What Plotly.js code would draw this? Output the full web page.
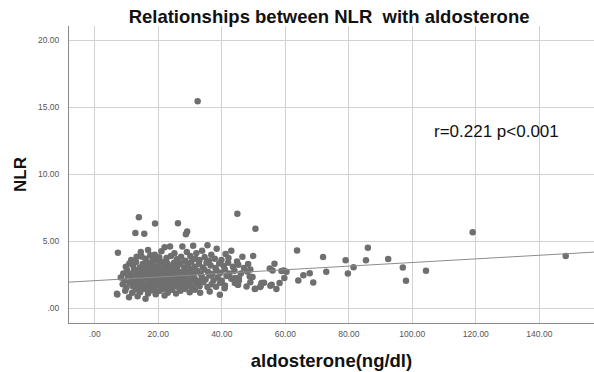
<!DOCTYPE html>
<html>
<head>
<meta charset="utf-8">
<script src="https://cdn.plot.ly/plotly-3.0.1.min.js"></script>
<style>html,body{margin:0;padding:0;background:#fff;}#chart{width:594px;height:372px;}</style>
</head>
<body>
<div id="chart"></div>
<script>
// aldosterone (ng/dl) values
const aldoX = [
  // outliers / sparse
  32.4, 13.9, 12.8, 15.6, 19.0, 26.2, 29.1, 28.7, 44.9, 50.6, 7.3, 63.7, 7.1, 49.9, 71.9, 79.0, 86.0, 85.4, 92.4, 119.0, 148.3, 97.0, 98.0, 104.3, 81.5, 79.7, 72.9, 67.7, 68.8, 65.7, 64.1, 59.7, 60.4, 59.5, 58.2, 57.2, 56.6, 55.1, 56.0, 55.3, 55.7, 53.3, 52.1, 52.3, 50.5, 49.7, 49.0, 49.0, 58.8, 45.4, 48.8, 52.5, 45.1,
  // upper fringe
  14.5, 16.8, 18.9, 21.0, 22.0, 23.7, 25.1, 27.6, 29.0, 31.0, 32.0, 33.8, 35.5, 36.7, 38.4, 41.2, 43.0,
  // 3.5 - 4.0
  11.5, 13.2, 14.7, 16.0, 17.5, 19.4, 20.3, 22.6, 24.0, 25.9, 27.2, 28.5, 30.1, 31.7, 33.0, 34.6, 36.0, 37.8, 39.9, 42.1, 44.8, 46.5,
  // 3.0 - 3.5
  9.8, 10.9, 12.1, 13.0, 14.2, 15.1, 16.3, 17.2, 18.0, 19.1, 20.0, 21.1, 21.9, 23.0, 24.2, 25.0, 26.1, 27.0, 28.2, 29.3, 30.4, 31.5, 32.8, 34.0, 35.2, 36.5, 38.0, 39.2, 40.6, 42.0, 43.5, 45.2, 47.0, 48.3,
  // 2.5 - 3.0
  9.0, 10.2, 11.3, 12.4, 13.5, 14.4, 15.3, 16.2, 17.1, 17.9, 18.8, 19.6, 20.5, 21.4, 22.3, 23.2, 24.1, 25.0, 25.8, 26.7, 27.6, 28.5, 29.4, 30.3, 31.2, 32.2, 33.3, 34.5, 35.7, 37.0, 38.3, 39.6, 41.0, 42.4, 44.0, 46.0, 48.0,
  // 2.0 - 2.5
  8.2, 9.4, 10.5, 11.6, 12.5, 13.3, 14.1, 14.9, 15.7, 16.5, 17.3, 18.1, 18.9, 19.7, 20.4, 21.2, 22.0, 22.8, 23.6, 24.4, 25.2, 26.0, 26.8, 27.7, 28.6, 29.5, 30.5, 31.5, 32.6, 33.7, 34.9, 36.1, 37.4, 38.7, 40.0, 41.5, 43.0, 44.1, 45.4,
  // 1.5 - 2.0
  8.8, 10.0, 11.0, 12.0, 12.9, 13.8, 14.6, 15.4, 16.2, 17.0, 17.8, 18.6, 19.4, 20.2, 21.0, 21.8, 22.6, 23.4, 24.2, 25.1, 26.0, 26.9, 27.8, 28.8, 29.8, 30.8, 31.9, 33.0, 34.2, 35.5, 36.8, 38.2, 39.5, 41.0, 44.1, 45.1, 47.8,
  // 1.0 - 1.5
  9.6, 11.8, 13.0, 14.3, 15.6, 16.8, 18.0, 19.2, 20.5, 21.7, 23.0, 24.3, 25.6, 27.0, 28.4, 29.9, 31.5, 33.2, 36.2, 39.4, 40.9, 50.4,
  // low
  7.0, 10.8, 16.0, 13.5, 22.0,
  // core second layer
  16.6, 17.6, 18.4, 19.0, 19.9, 20.8, 21.5, 22.2, 23.0, 23.8, 24.6, 25.4, 26.3, 27.1, 28.0, 29.0, 30.0, 31.0, 15.8, 18.2, 20.6, 22.5, 24.8, 26.5, 16.9, 19.6, 23.3, 27.4
];
// NLR values
const nlrY = [
  15.45, 6.80, 5.61, 5.56, 6.32, 6.35, 5.73, 5.53, 7.05, 5.93, 4.14, 4.31, 1.03, 3.91, 3.82, 3.59, 4.51, 3.59, 3.67, 5.68, 3.91, 3.04, 2.05, 2.80, 3.07, 2.60, 2.72, 2.62, 1.93, 2.47, 2.07, 2.25, 2.72, 2.82, 1.88, 1.43, 3.32, 2.97, 2.82, 1.68, 1.75, 1.90, 1.58, 1.68, 1.45, 2.33, 1.95, 2.89, 2.79, 2.25, 2.38, 1.88, 1.75,
  4.20, 4.35, 4.00, 4.25, 4.56, 4.61, 4.10, 4.61, 4.20, 4.66, 4.11, 4.30, 4.71, 3.99, 4.45, 4.05, 4.29,
  3.60, 3.85, 3.87, 3.70, 3.95, 3.60, 3.80, 3.75, 3.90, 3.65, 3.85, 3.55, 3.90, 3.70, 3.60, 3.82, 3.55, 3.70, 3.61, 3.75, 3.50, 3.85,
  3.10, 3.35, 3.20, 3.45, 3.05, 3.30, 3.45, 3.15, 3.38, 3.02, 3.25, 3.45, 3.10, 3.30, 3.00, 3.40, 3.15, 3.35, 3.05, 3.28, 3.45, 3.10, 3.32, 3.05, 3.40, 3.20, 3.00, 3.35, 3.15, 3.40, 3.10, 3.25, 3.00, 3.30,
  2.60, 2.85, 2.55, 2.90, 2.70, 2.95, 2.60, 2.80, 2.55, 2.95, 2.70, 2.50, 2.85, 2.65, 2.95, 2.55, 2.80, 2.60, 2.90, 2.70, 2.52, 2.85, 2.65, 2.95, 2.58, 2.80, 2.60, 2.90, 2.70, 2.55, 2.85, 2.65, 2.90, 2.60, 2.80, 2.60, 2.75,
  2.30, 2.05, 2.40, 2.15, 2.45, 2.10, 2.35, 2.00, 2.25, 2.45, 2.10, 2.30, 2.02, 2.40, 2.15, 2.35, 2.05, 2.45, 2.20, 2.38, 2.08, 2.30, 2.48, 2.12, 2.35, 2.05, 2.42, 2.20, 2.02, 2.35, 2.15, 2.45, 2.10, 2.30, 2.05, 2.40, 2.20, 2.25, 2.05,
  1.80, 1.55, 1.90, 1.65, 1.95, 1.60, 1.85, 1.52, 1.75, 1.98, 1.60, 1.85, 1.55, 1.78, 1.95, 1.62, 1.85, 1.50, 1.72, 1.95, 1.60, 1.82, 1.55, 1.90, 1.68, 1.52, 1.85, 1.65, 1.95, 1.58, 1.80, 1.60, 1.90, 1.70, 1.88, 1.75, 1.63,
  1.30, 1.15, 1.40, 1.20, 1.45, 1.10, 1.35, 1.05, 1.30, 1.45, 1.15, 1.38, 1.10, 1.30, 1.45, 1.20, 1.38, 1.15, 1.25, 1.00, 1.50, 1.43,
  1.08, 0.83, 0.71, 0.90, 0.95,
  2.60, 2.20, 2.75, 1.75, 3.00, 2.50, 1.85, 2.70, 2.00, 3.10, 2.45, 1.85, 2.55, 2.05, 2.75, 1.70, 2.60, 2.00, 3.10, 3.60, 1.60, 3.50, 2.90, 3.40, 1.40, 1.25, 1.35, 1.60
];
// linear fit
const fitIntercept = 2.06;
const fitSlope = 0.01355;
const xRange = [-8.1, 157.2];
const yRange = [-1.1, 21.07];
const xTickVals = [0, 20, 40, 60, 80, 100, 120, 140];
const xTickText = ['.00', '20.00', '40.00', '60.00', '80.00', '100.00', '120.00', '140.00'];
const yTickVals = [0, 5, 10, 15, 20];
const yTickText = ['.00', '5.00', '10.00', '15.00', '20.00'];

const fitX = xRange.slice();
const fitY = fitX.map(x => fitIntercept + fitSlope * x);

const font = 'Liberation Sans, Arial, sans-serif';
const traces = [
  {x: aldoX, y: nlrY, type: 'scatter', mode: 'markers',
   marker: {color: '#6f6f6f', size: 6.5, line: {width: 0}}, hoverinfo: 'none'},
  {x: fitX, y: fitY, type: 'scatter', mode: 'lines',
   line: {color: '#8c8c8c', width: 1}, hoverinfo: 'none'}
];
const layout = {
  width: 594, height: 372,
  margin: {l: 69, r: 0, t: 26, b: 49},
  paper_bgcolor: '#ffffff', plot_bgcolor: '#ffffff',
  showlegend: false,
  font: {family: font, color: '#444'},
  title: {text: 'Relationships between NLR\u00a0 with aldosterone', font: {family: font, size: 18.5, color: '#111', weight: 'bold'},
          x: 0.554, xanchor: 'center', xref: 'container', y: 0.955, yanchor: 'middle', yref: 'container'},
  xaxis: {range: xRange, tickvals: xTickVals, ticktext: xTickText,
          showgrid: true, gridcolor: '#d4d2cf', gridwidth: 1, zeroline: false,
          showline: true, linecolor: '#8a8a8a', linewidth: 1, mirror: false,
          ticks: 'outside', ticklen: 3, tickcolor: 'rgba(0,0,0,0)',
          tickfont: {family: font, size: 8.5, color: '#555'},
          title: {text: 'aldosterone(ng/dl)', font: {family: font, size: 18.5, color: '#111', weight: 'bold'}, standoff: 15}},
  yaxis: {range: yRange, tickvals: yTickVals, ticktext: yTickText,
          showgrid: true, gridcolor: '#d4d2cf', gridwidth: 1, zeroline: false,
          showline: true, linecolor: '#8a8a8a', linewidth: 1, mirror: false,
          ticks: 'outside', ticklen: 7, tickcolor: 'rgba(0,0,0,0)',
          tickfont: {family: font, size: 8.5, color: '#555'},
          title: {text: 'NLR', font: {family: font, size: 17, color: '#111', weight: 'bold'}, standoff: 7}},
  annotations: [{text: 'r=0.221 p<0.001', xref: 'paper', yref: 'paper',
                 x: (432 - 69) / 525, xanchor: 'left', y: (323 - 131) / 297, yanchor: 'middle',
                 showarrow: false, font: {family: font, size: 17, color: '#111'}}]
};
Plotly.newPlot('chart', traces, layout, {staticPlot: true, displayModeBar: false});
</script>
</body>
</html>
